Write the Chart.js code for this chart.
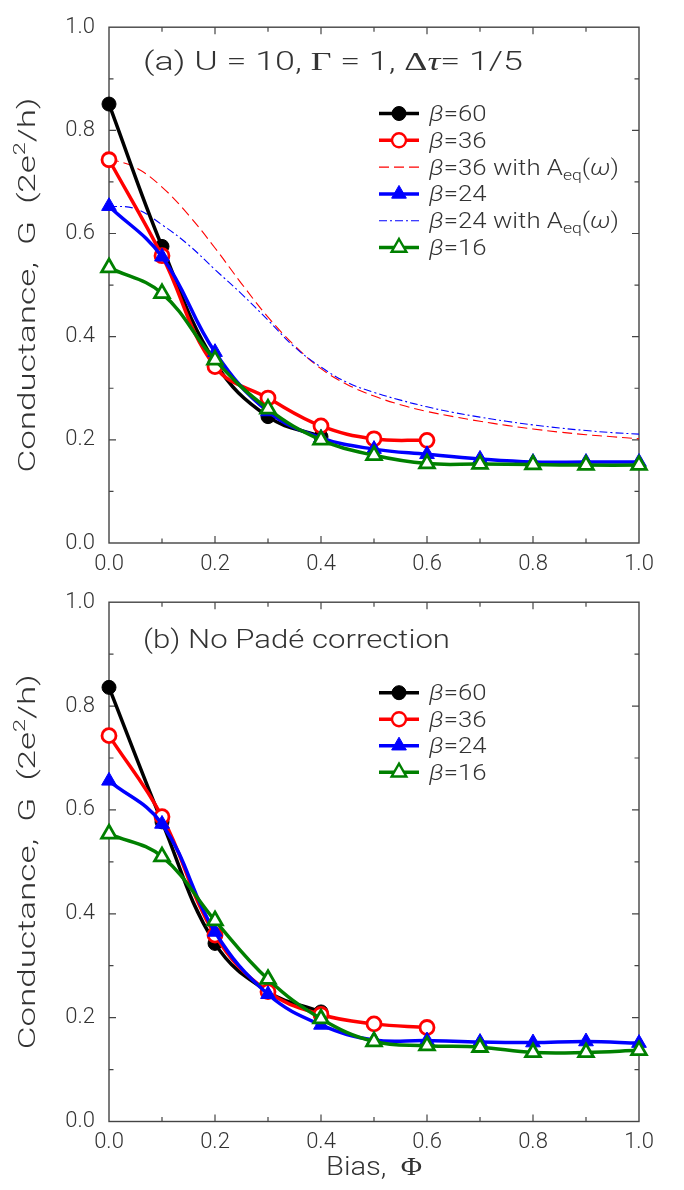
<!doctype html>
<html>
<head>
<meta charset="utf-8">
<title>Conductance vs bias</title>
<script src="https://cdn.jsdelivr.net/npm/chart.js@4.4.1/dist/chart.umd.min.js"></script>
<style>
  body { margin: 0; background: #fff; }
  .panel { position: absolute; left: 0; }
  #wrapA { top: 0; }
  #wrapB { top: 575px; }
</style>
</head>
<body>
<div class="panel" id="wrapA"><canvas id="chartA" width="684" height="590"></canvas></div>
<div class="panel" id="wrapB"><canvas id="chartB" width="684" height="615"></canvas></div>
<script>
// bias values for the QMC points
const bias = [0, 0.1, 0.2, 0.3, 0.4, 0.5, 0.6, 0.7, 0.8, 0.9, 1.0];
// finer grid for the equilibrium-spectral-function curves
const biasFine = [0, 0.05, 0.1, 0.15, 0.2, 0.25, 0.3, 0.35, 0.4, 0.45, 0.5,
                  0.55, 0.6, 0.65, 0.7, 0.75, 0.8, 0.85, 0.9, 0.95, 1.0];

// panel (a)
const a60 = [0.851, 0.575, 0.350, 0.245, 0.206];
const a36 = [0.743, 0.557, 0.342, 0.281, 0.227, 0.202, 0.199];
const a24 = [0.653, 0.555, 0.370, 0.255, 0.204, 0.182, 0.172, 0.163, 0.157, 0.157, 0.157];
const a16 = [0.534, 0.484, 0.355, 0.260, 0.200, 0.170, 0.154, 0.153, 0.152, 0.151, 0.151];
const a36eq = [0.745, 0.728, 0.690, 0.636, 0.572, 0.503, 0.438, 0.383, 0.338, 0.307, 0.285,
               0.268, 0.255, 0.245, 0.236, 0.228, 0.221, 0.215, 0.210, 0.206, 0.202];
const a24eq = [0.653, 0.648, 0.617, 0.578, 0.530, 0.483, 0.432, 0.380, 0.341, 0.311, 0.292,
               0.277, 0.264, 0.253, 0.244, 0.236, 0.229, 0.223, 0.218, 0.214, 0.211];

// panel (b)
const b60 = [0.836, 0.577, 0.343, 0.250, 0.211];
const b36 = [0.743, 0.587, 0.359, 0.250, 0.206, 0.188, 0.181];
const b24 = [0.656, 0.573, 0.365, 0.245, 0.186, 0.157, 0.156, 0.153, 0.152, 0.154, 0.151];
const b16 = [0.554, 0.510, 0.387, 0.274, 0.198, 0.154, 0.146, 0.143, 0.133, 0.133, 0.137];

const yTicks = [0, 0.2, 0.4, 0.6, 0.8, 1.0];

const RED = '#ff0000', BLUE = '#0000ff', GREEN = '#008000', BLACK = '#000000';
const SANS = "Roboto, 'DejaVu Sans', sans-serif";
const TXT = '#333';

function pts(xs, ys) {
  return ys.map((y, i) => ({ x: xs[i], y: y }));
}

function solid(label, ys, color, style, filled, order) {
  return {
    label: label,
    data: pts(bias, ys),
    borderColor: color,
    borderWidth: 3.5,
    tension: 0.4,
    pointStyle: style,
    pointRadius: style === 'triangle' ? 8.5 : 7,
    pointBorderWidth: filled ? 1 : 2.8,
    pointBackgroundColor: filled ? color : '#ffffff',
    pointBorderColor: color,
    clip: false,
    order: order
  };
}

function thin(label, ys, color, dash, order) {
  return {
    label: label,
    data: pts(biasFine, ys),
    borderColor: color,
    borderWidth: 1.1,
    borderDash: dash,
    tension: 0.4,
    pointRadius: 0,
    clip: false,
    order: order
  };
}

const fSans = s => '300 ' + s + 'px ' + SANS;
const fIt = s => 'italic 300 ' + s + 'px ' + SANS;
const fSerif = s => s + "px 'Liberation Serif', 'DejaVu Serif', serif";
const fSerifIt = s => "italic " + s + "px 'Liberation Serif', 'DejaVu Serif', serif";

function richWidth(ctx, parts) {
  let w = 0;
  parts.forEach(p => { ctx.font = p.font; w += ctx.measureText(p.t).width; });
  return w;
}

function drawRich(ctx, parts) {
  let cx = 0;
  parts.forEach(p => {
    ctx.font = p.font;
    ctx.fillText(p.t, cx, p.dy || 0);
    cx += ctx.measureText(p.t).width;
  });
}

function betaLabel(rest, eq) {
  const parts = [{ t: 'β', font: fIt(22) }, { t: rest, font: fSans(22) }];
  if (eq) {
    parts.push({ t: ' with A', font: fSans(22) });
    parts.push({ t: 'eq', font: fSans(15), dy: 5 });
    parts.push({ t: '(', font: fSans(22) });
    parts.push({ t: 'ω', font: fIt(22) });
    parts.push({ t: ')', font: fSans(22) });
  }
  return parts;
}

const decor = {
  id: 'decor',
  beforeDatasetsDraw(chart, args, o) {
    const ctx = chart.ctx, a = chart.chartArea;
    const xs = chart.scales.x, ys = chart.scales.y;
    ctx.save();
    ctx.strokeStyle = '#444';
    ctx.lineWidth = 1.4;
    ctx.strokeRect(a.left, a.top, a.right - a.left, a.bottom - a.top);
    ctx.lineWidth = 1.2;
    ctx.beginPath();
    for (let i = 1; i < 10; i++) {
      const len = i % 2 === 0 ? 7 : 4.5;
      const px = xs.getPixelForValue(i / 10);
      ctx.moveTo(px, a.bottom); ctx.lineTo(px, a.bottom - len);
      ctx.moveTo(px, a.top); ctx.lineTo(px, a.top + len);
      const py = ys.getPixelForValue(i / 10);
      ctx.moveTo(a.left, py); ctx.lineTo(a.left + len, py);
      ctx.moveTo(a.right, py); ctx.lineTo(a.right - len, py);
    }
    ctx.stroke();
    ctx.restore();
  },
  afterDraw(chart, args, o) {
    const ctx = chart.ctx, a = chart.chartArea;
    ctx.save();
    ctx.fillStyle = TXT;
    ctx.textBaseline = 'alphabetic';
    ctx.textAlign = 'left';

    // panel label
    const tw = richWidth(ctx, o.title);
    ctx.save();
    ctx.translate(143, o.titleY);
    ctx.scale(o.titleW / tw, 1);
    drawRich(ctx, o.title);
    ctx.restore();

    // legend
    const lw = richWidth(ctx, betaLabel('=36', true));
    const lsx = 190 / lw;
    o.legend.forEach((it, k) => {
      const y = o.legendY + k * o.legendDy;
      ctx.save();
      ctx.strokeStyle = it.color;
      ctx.lineWidth = it.dash ? 1.1 : 3.5;
      ctx.setLineDash(it.dash || []);
      ctx.beginPath();
      ctx.moveTo(379, y); ctx.lineTo(419, y);
      ctx.stroke();
      ctx.setLineDash([]);
      if (it.marker) {
        ctx.fillStyle = it.filled ? it.color : '#ffffff';
        ctx.lineWidth = it.filled ? 1 : 2.4;
        Chart.helpers.drawPoint(ctx, {
          pointStyle: it.marker, radius: it.marker === 'triangle' ? 8.5 : 7,
          rotation: 0, borderWidth: ctx.lineWidth
        }, 399, y);
      }
      ctx.restore();
      ctx.save();
      ctx.translate(429, y + 7.5);
      ctx.scale(lsx, 1);
      drawRich(ctx, betaLabel(it.rest, it.eq));
      ctx.restore();
    });

    // y axis title
    const yt = [{ t: 'Conductance,  G  (2e', font: fSans(24) }, { t: '2', font: fSans(16), dy: -10 }, { t: '/h)', font: fSans(24) }];
    const yw = richWidth(ctx, yt);
    const cy = (a.top + a.bottom) / 2;
    ctx.save();
    ctx.translate(35, cy);
    ctx.rotate(-Math.PI / 2);
    ctx.scale(375 / yw, 1);
    ctx.translate(-yw / 2, 0);
    drawRich(ctx, yt);
    ctx.restore();

    if (o.xTitle) {
      const xt = [{ t: 'Bias,  ', font: fSans(25) }, { t: 'Φ', font: fSerif(25) }];
      const xw = richWidth(ctx, xt);
      ctx.save();
      ctx.translate((a.left + a.right) / 2, o.xTitleY);
      ctx.scale(96 / xw, 1);
      ctx.translate(-xw / 2, 0);
      drawRich(ctx, xt);
      ctx.restore();
    }
    ctx.restore();
  }
};

function scaleOpts(isX, fit) {
  return {
    type: 'linear',
    min: 0,
    max: 1,
    afterBuildTicks: s => { s.ticks = yTicks.map(v => ({ value: v })); },
    ticks: {
      padding: isX ? 8 : 14,
      color: TXT,
      font: { family: SANS, size: 22, weight: '300' },
      callback: v => v.toFixed(1),
      maxRotation: 0,
      autoSkip: false
    },
    grid: { display: false, drawTicks: false },
    border: { display: false },
    afterFit: fit
  };
}

function makeChart(id, datasets, deco, padTop, xHeight) {
  return new Chart(document.getElementById(id), {
    type: 'line',
    data: { datasets: datasets },
    options: {
      responsive: false,
      animation: false,
      layout: { padding: { top: padTop, right: 45, left: 0, bottom: 0 } },
      plugins: { legend: { display: false }, tooltip: { enabled: false }, decor: deco },
      scales: {
        x: scaleOpts(true, s => { s.height = xHeight; }),
        y: scaleOpts(false, s => { s.width = 109; })
      }
    },
    plugins: [decor]
  });
}

const legendA = [
  { color: BLACK, marker: 'circle', filled: true, rest: '=60' },
  { color: RED, marker: 'circle', filled: false, rest: '=36' },
  { color: RED, dash: [10, 5], rest: '=36', eq: true },
  { color: BLUE, marker: 'triangle', filled: true, rest: '=24' },
  { color: BLUE, dash: [8, 3, 2, 3], rest: '=24', eq: true },
  { color: GREEN, marker: 'triangle', filled: false, rest: '=16' }
];
const legendB = [legendA[0], legendA[1], legendA[3], legendA[5]];

const titleA = [
  { t: '(a) U = 10, ', font: fSans(25) },
  { t: 'Γ', font: fSerif(25) },
  { t: ' = 1, ', font: fSans(25) },
  { t: 'Δ', font: fSerif(25) },
  { t: 'τ', font: fSerifIt(25) },
  { t: '= 1/5', font: fSans(25) }
];
const titleB = [{ t: '(b) No Padé correction', font: fSans(25) }];

makeChart('chartA', [
  thin('β=36 with Aeq(ω)', a36eq, RED, [10, 5], 6),
  thin('β=24 with Aeq(ω)', a24eq, BLUE, [8, 3, 2, 3], 5),
  solid('β=60', a60, BLACK, 'circle', true, 4),
  solid('β=36', a36, RED, 'circle', false, 3),
  solid('β=24', a24, BLUE, 'triangle', true, 2),
  solid('β=16', a16, GREEN, 'triangle', false, 1)
], { title: titleA, titleY: 70, titleW: 380, legend: legendA, legendY: 113.5, legendDy: 26.8 }, 13, 47);

makeChart('chartB', [
  solid('β=60', b60, BLACK, 'circle', true, 4),
  solid('β=36', b36, RED, 'circle', false, 3),
  solid('β=24', b24, BLUE, 'triangle', true, 2),
  solid('β=16', b16, GREEN, 'triangle', false, 1)
], { title: titleB, titleY: 73, titleW: 307, legend: legendB, legendY: 117.7, legendDy: 26.5, xTitle: true, xTitleY: 600 }, 17.7, 68.5);
</script>
</body>
</html>
